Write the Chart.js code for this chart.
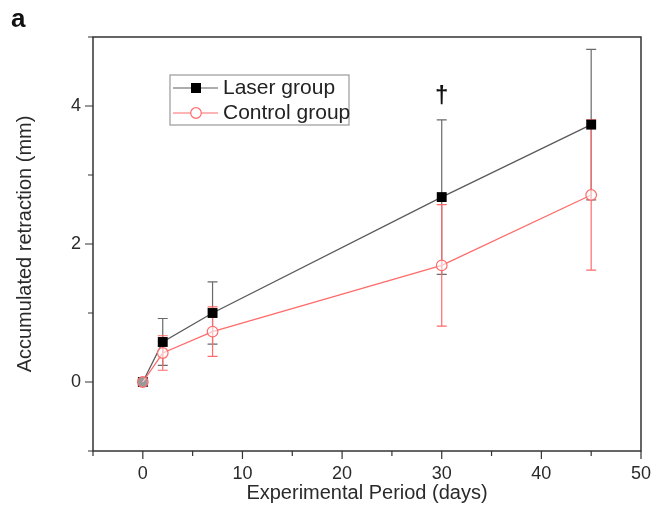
<!DOCTYPE html>
<html>
<head>
<meta charset="utf-8">
<script src="https://cdn.jsdelivr.net/npm/chart.js"></script>
<style>
  body { margin: 0; background: #fff; }
  #wrap { position: relative; width: 651px; height: 517px; }
</style>
</head>
<body>
<div id="wrap"><canvas id="retractionChart"></canvas></div>
<script>
const days = [0, 2, 7, 30, 45];
const laserMean = [0, 0.58, 1.0, 2.68, 3.73];
const laserSD = [0, 0.34, 0.45, 1.12, 1.09];
const controlMean = [0, 0.42, 0.73, 1.69, 2.71];
const controlSD = [0, 0.25, 0.36, 0.88, 1.09];

const xTickValues = [0, 10, 20, 30, 40, 50];
const xMinorTicks = [-5, 5, 15, 25, 35, 45];
const yTickValues = [0, 2, 4];
const yMinorTicks = [-1, 1, 3, 5];

const seriesNames = ['Laser group', 'Control group'];
const markLabel = '\u2020';
const markPoint = { x: 30, y: 4.14 };

const FONT = "'Liberation Sans', Arial, sans-serif";
const laserColor = '#5a5a5a';
const controlColor = '#ff6b6b';

function toPoints(xs, ys) {
    return xs.map((v, i) => ({ x: v, y: ys[i] }));
}

// error bars go under the markers
const errorBars = {
    id: 'errorBars',
    beforeDatasetsDraw(chart) {
        const ctx = chart.ctx;
        const x = chart.scales.x, y = chart.scales.y;
        const sets = [
            { mean: laserMean, sd: laserSD, color: '#6a6a6a' },
            { mean: controlMean, sd: controlSD, color: controlColor }
        ];
        ctx.save();
        ctx.lineWidth = 1.2;
        sets.forEach(s => {
            ctx.strokeStyle = s.color;
            days.forEach((d, i) => {
                if (!s.sd[i]) return;
                const px = x.getPixelForValue(d);
                const top = y.getPixelForValue(s.mean[i] + s.sd[i]);
                const bot = y.getPixelForValue(s.mean[i] - s.sd[i]);
                ctx.beginPath();
                ctx.moveTo(px, top); ctx.lineTo(px, bot);
                ctx.moveTo(px - 5, top); ctx.lineTo(px + 5, top);
                ctx.moveTo(px - 5, bot); ctx.lineTo(px + 5, bot);
                ctx.stroke();
            });
        });
        ctx.restore();
    }
};

// frame, tick marks, legend box, dagger and panel letter
const decorations = {
    id: 'decorations',
    afterDraw(chart) {
        const ctx = chart.ctx;
        const a = chart.chartArea;
        const x = chart.scales.x, y = chart.scales.y;
        ctx.save();
        ctx.strokeStyle = '#333';
        ctx.lineWidth = 1.5;
        ctx.strokeRect(a.left, a.top, a.right - a.left, a.bottom - a.top);

        ctx.lineWidth = 1.2;
        ctx.beginPath();
        xTickValues.forEach(v => {
            const px = x.getPixelForValue(v);
            ctx.moveTo(px, a.bottom); ctx.lineTo(px, a.bottom + 8);
        });
        xMinorTicks.forEach(v => {
            const px = x.getPixelForValue(v);
            ctx.moveTo(px, a.bottom); ctx.lineTo(px, a.bottom + 5);
        });
        yTickValues.forEach(v => {
            const py = y.getPixelForValue(v);
            ctx.moveTo(a.left, py); ctx.lineTo(a.left - 8, py);
        });
        yMinorTicks.forEach(v => {
            const py = y.getPixelForValue(v);
            ctx.moveTo(a.left, py); ctx.lineTo(a.left - 5, py);
        });
        ctx.stroke();

        // legend
        const lx = 170, ly = 75, lw = 179, lh = 50;
        ctx.strokeStyle = '#999';
        ctx.lineWidth = 1.2;
        ctx.strokeRect(lx, ly, lw, lh);
        const rows = [
            { y: 88, color: laserColor },
            { y: 113, color: controlColor }
        ];
        rows.forEach((r, i) => {
            ctx.strokeStyle = r.color;
            ctx.lineWidth = 1.2;
            ctx.beginPath();
            ctx.moveTo(173, r.y); ctx.lineTo(218, r.y);
            ctx.stroke();
            if (i === 0) {
                ctx.fillStyle = '#000';
                ctx.fillRect(191, r.y - 5, 10, 10);
            } else {
                ctx.fillStyle = '#fff';
                ctx.beginPath();
                ctx.arc(196, r.y, 5.3, 0, Math.PI * 2);
                ctx.fill();
                ctx.stroke();
            }
            ctx.fillStyle = '#222';
            ctx.font = '21px ' + FONT;
            ctx.textBaseline = 'middle';
            ctx.textAlign = 'left';
            ctx.fillText(seriesNames[i], 223, r.y);
        });

        // significance mark
        ctx.fillStyle = '#111';
        ctx.font = 'bold 24px ' + FONT;
        ctx.textAlign = 'center';
        ctx.textBaseline = 'middle';
        ctx.fillText(markLabel, x.getPixelForValue(markPoint.x), y.getPixelForValue(markPoint.y));

        // panel letter
        ctx.fillStyle = '#111';
        ctx.font = 'bold 26px ' + FONT;
        ctx.textAlign = 'left';
        ctx.textBaseline = 'alphabetic';
        ctx.fillText('a', 11, 27);
        ctx.restore();
    }
};

const ctx = document.getElementById('retractionChart');

new Chart(ctx, {
    type: 'line',
    data: {
        datasets: [
            {
                label: seriesNames[0],
                data: toPoints(days, laserMean),
                borderColor: laserColor,
                borderWidth: 1.3,
                backgroundColor: '#000',
                pointStyle: 'rect',
                pointRadius: 7,
                pointBorderWidth: 0,
                pointBackgroundColor: '#000',
                order: 1
            },
            {
                label: seriesNames[1],
                data: toPoints(days, controlMean),
                borderColor: controlColor,
                borderWidth: 1.3,
                pointStyle: 'circle',
                pointRadius: 5.3,
                pointBorderWidth: 1.2,
                pointBorderColor: controlColor,
                pointBackgroundColor: 'rgba(255,255,255,0.6)',
                order: 0
            }
        ]
    },
    options: {
        responsive: true,
        maintainAspectRatio: false,
        animation: false,
        layout: { padding: { left: 0, right: 0, top: 37, bottom: 0 } },
        scales: {
            x: {
                type: 'linear',
                min: -5,
                max: 50,
                afterBuildTicks: scale => { scale.ticks = xTickValues.map(v => ({ value: v })); },
                afterFit: scale => { scale.height = 66; scale.paddingLeft = 0; scale.paddingRight = 10; },
                border: { display: false },
                grid: { display: true, drawOnChartArea: false, drawTicks: true, tickLength: 8, color: 'rgba(0,0,0,0)' },
                ticks: { color: '#2a2a2a', font: { family: FONT, size: 18 }, padding: 4, maxRotation: 0 },
                title: {
                    display: true,
                    text: 'Experimental Period (days)',
                    color: '#2a2a2a',
                    font: { family: FONT, size: 20 },
                    padding: { top: 0, bottom: 12 }
                }
            },
            y: {
                type: 'linear',
                min: -1,
                max: 5,
                afterBuildTicks: scale => { scale.ticks = yTickValues.map(v => ({ value: v })); },
                afterFit: scale => { scale.width = 93; scale.paddingTop = 0; scale.paddingBottom = 0; },
                border: { display: false },
                grid: { display: true, drawOnChartArea: false, drawTicks: true, tickLength: 8, color: 'rgba(0,0,0,0)' },
                ticks: { color: '#2a2a2a', font: { family: FONT, size: 18 }, padding: 4 },
                title: {
                    display: true,
                    text: 'Accumulated retraction (mm)',
                    color: '#2a2a2a',
                    font: { family: FONT, size: 20 },
                    padding: { top: 13, bottom: 0 }
                }
            }
        },
        plugins: {
            legend: { display: false },
            tooltip: { enabled: false }
        },
        elements: { line: { tension: 0 } }
    },
    plugins: [errorBars, decorations]
});
</script>
</body>
</html>
